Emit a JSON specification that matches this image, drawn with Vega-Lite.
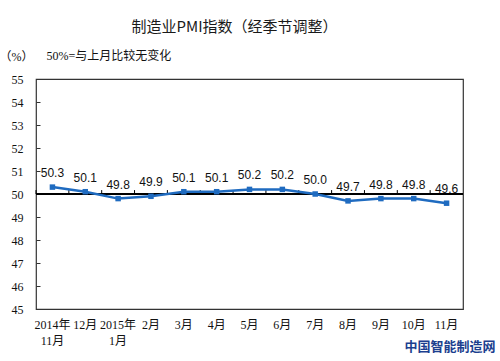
{
  "$schema": "https://vega.github.io/schema/vega-lite/v6.json",
  "width": 427,
  "height": 230,
  "autosize": {"type": "none"},
  "padding": {"left": 36, "top": 79, "right": 37, "bottom": 52},
  "background": "white",
  "title": {
    "text": "制造业PMI指数（经季节调整）",
    "font": "Noto Sans CJK SC",
    "fontSize": 15,
    "fontWeight": "normal",
    "color": "#1a1a1a",
    "anchor": "middle",
    "dx": -15,
    "offset": 15
  },
  "data": {
    "values": [
      {"month": "2014年|11月", "pmi": 50.3},
      {"month": "12月", "pmi": 50.1},
      {"month": "2015年|1月", "pmi": 49.8},
      {"month": "2月", "pmi": 49.9},
      {"month": "3月", "pmi": 50.1},
      {"month": "4月", "pmi": 50.1},
      {"month": "5月", "pmi": 50.2},
      {"month": "6月", "pmi": 50.2},
      {"month": "7月", "pmi": 50.0},
      {"month": "8月", "pmi": 49.7},
      {"month": "9月", "pmi": 49.8},
      {"month": "10月", "pmi": 49.8},
      {"month": "11月", "pmi": 49.6}
    ]
  },
  "encoding": {
    "x": {
      "field": "month",
      "type": "nominal",
      "sort": null,
      "scale": {"paddingInner": 0, "paddingOuter": 0},
      "axis": {
        "title": "中国智能制造网",
        "titleFont": "Noto Sans CJK SC",
        "titleFontSize": 13,
        "titleFontWeight": "bold",
        "titleColor": "#1c3f8f",
        "titleAnchor": "end",
        "titleAlign": "right",
        "titleBaseline": "middle",
        "titleX": 459,
        "titleY": 37,
        "labelAngle": 0,
        "labelExpr": "split(datum.label, '|')",
        "labelFont": "Liberation Serif, Noto Sans CJK SC",
        "labelFontSize": 12,
        "labelColor": "#111",
        "labelLineHeight": 16,
        "labelPadding": 10,
        "labelOverlap": false,
        "domain": false,
        "ticks": false,
        "grid": false
      }
    },
    "y": {
      "field": "pmi",
      "type": "quantitative",
      "scale": {"domain": [45, 55], "nice": false, "zero": false},
      "axis": {
        "title": "（%）",
        "titleFont": "Liberation Serif, Noto Sans CJK SC",
        "titleFontSize": 12,
        "titleFontWeight": "normal",
        "titleColor": "#111",
        "titleAngle": 0,
        "titleAlign": "center",
        "titleBaseline": "middle",
        "titleX": -20,
        "titleY": -23,
        "values": [45, 46, 47, 48, 49, 50, 51, 52, 53, 54, 55],
        "labelOverlap": false,
        "labelFont": "Liberation Serif",
        "labelFontSize": 12,
        "labelColor": "#111",
        "tickSize": -4,
        "tickColor": "#333",
        "labelPadding": 17,
        "domain": false,
        "grid": false
      }
    }
  },
  "layer": [
    {
      "mark": {"type": "rule", "color": "#000", "strokeWidth": 1},
      "encoding": {"y": {"datum": 50, "type": "quantitative"}, "x": null}
    },
    {
      "mark": {"type": "rule", "color": "#000", "strokeWidth": 1},
      "encoding": {
        "x": {"field": "month", "type": "nominal", "sort": null, "bandPosition": 0},
        "y": {"datum": 50, "type": "quantitative"},
        "y2": {"datum": 50.17}
      }
    },
    {
      "mark": {"type": "line", "color": "#1f6bc0", "strokeWidth": 2.5}
    },
    {
      "mark": {"type": "square", "color": "#1f6bc0", "size": 30, "opacity": 1, "filled": true}
    },
    {
      "mark": {"type": "text", "font": "Liberation Sans", "fontSize": 12, "color": "#111", "baseline": "bottom", "dy": -7},
      "encoding": {
        "text": {"field": "pmi", "type": "quantitative", "format": ".1f"}
      }
    },
    {
      "data": {"values": [{"note": "50%=与上月比较无变化", "month": "2014年|11月", "pmi": 56}]},
      "mark": {"type": "text", "font": "Liberation Serif, Noto Sans CJK SC", "fontSize": 12, "color": "#111", "align": "left", "baseline": "middle", "dx": -6},
      "encoding": {
        "text": {"field": "note"}
      }
    }
  ],
  "config": {
    "view": {"stroke": "#333", "strokeWidth": 1.2},
    "axis": {"labelFlush": false}
  }
}
